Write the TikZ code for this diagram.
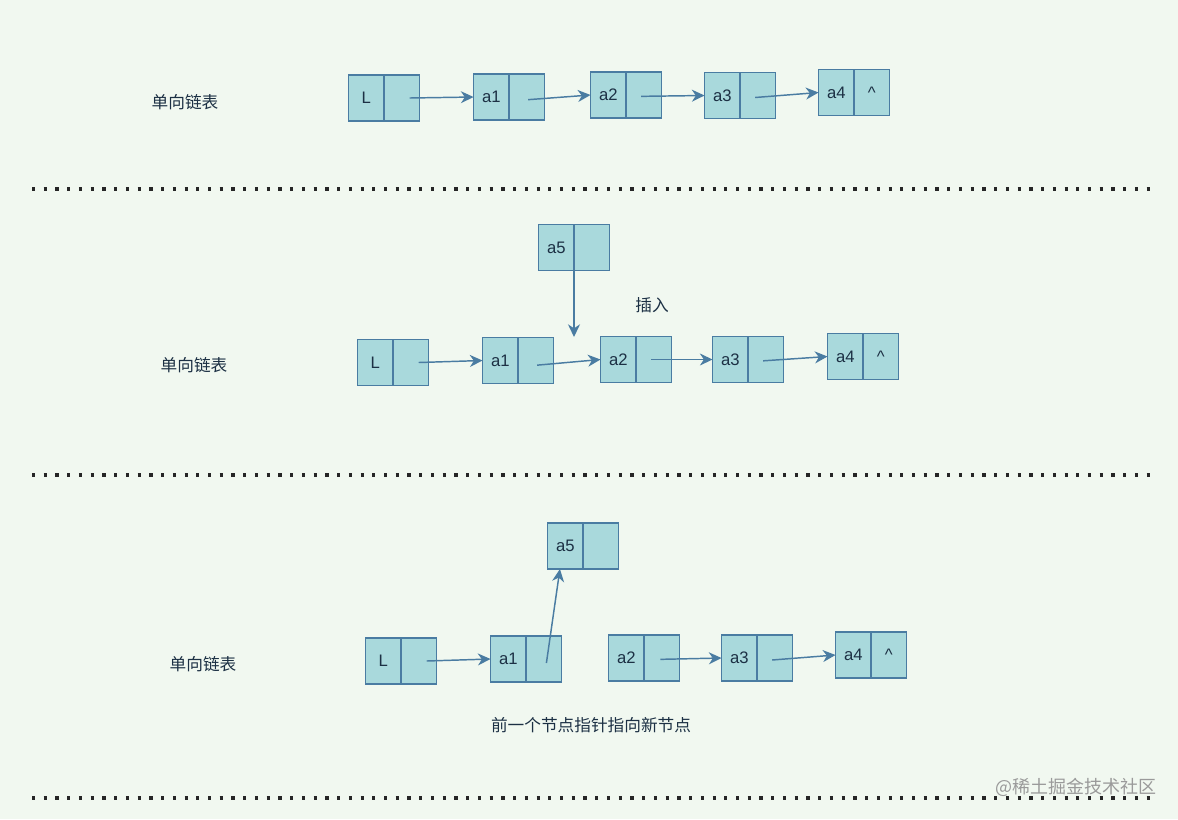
\documentclass[tikz,border=0pt]{standalone}
\usepackage{fontspec}
\setmainfont{Liberation Sans}
\newfontfamily\cjk{Noto Sans CJK SC}
\usetikzlibrary{arrows.meta}
\definecolor{bg}{HTML}{F1F8F0}
\definecolor{cellfill}{HTML}{A9D9DC}
\definecolor{cellline}{HTML}{4A7CA2}
\definecolor{txt}{HTML}{1C3044}
\definecolor{wm}{HTML}{9A9A9A}
\tikzset{
  cell/.style={draw=cellline, fill=cellfill, line width=1.2pt, outer sep=0pt, minimum width=26.6pt, minimum height=34.5pt, inner sep=0pt, text=txt, font=\fontsize{12.5}{14}\selectfont},
  arr/.style={draw=cellline, line width=1.1pt, -{Stealth[length=9.5pt,width=9pt,inset=3pt]}},
  lbl/.style={text=txt, font=\cjk\fontsize{12.5}{15}\selectfont},
  dotline/.style={line width=2.4pt, dash pattern=on 2.4pt off 6.4pt, black!85}
}
\newcommand\lnode[5]{%
  \node[cell,anchor=east] (#1) at (#2,#3) {#4};
  \node[cell,anchor=west] (#1p) at (#2,#3) {#5};}
\begin{document}
\begin{tikzpicture}[x=0.75pt,y=-0.75pt]
\fill[bg] (0,0) rectangle (1178,819);
\useasboundingbox (0,0) rectangle (1178,819);
% Row 1
\node[lbl] (t1) at (185,102) {单向链表};
\lnode{r1L}{384}{98}{L}{}
\lnode{r1a}{509}{97}{a1}{}
\lnode{r1b}{626}{95}{a2}{}
\lnode{r1c}{740}{95.5}{a3}{}
\lnode{r1d}{854}{92.5}{a4}{\^{}}
\draw[arr] ([xshift=6pt]r1Lp.center) -- (r1a.west);
\draw[arr] ([xshift=1pt,yshift=-2pt]r1ap.center) -- (r1b.west);
\draw[arr] ([xshift=-2pt,yshift=-1pt]r1bp.center) -- (r1c.west);
\draw[arr] ([xshift=-2pt,yshift=-1.5pt]r1cp.center) -- (r1d.west);
\draw[dotline] (32,189) -- (1152,189);
% Row 2
\node[lbl] (t2) at (194,365) {单向链表};
\lnode{r2e}{574}{247.5}{a5}{}
\lnode{r2L}{393}{362.5}{L}{}
\lnode{r2a}{518}{360.5}{a1}{}
\lnode{r2b}{636}{359.5}{a2}{}
\lnode{r2c}{748}{359.5}{a3}{}
\lnode{r2d}{863}{356.5}{a4}{\^{}}
\coordinate (ins) at (574,337);
\node[lbl] (t2b) at (652,305) {插入};
\draw[arr] (r2e.south east) -- (ins);
\draw[arr] ([xshift=6pt]r2Lp.center) -- (r2a.west);
\draw[arr] ([xshift=1pt,yshift=-3.5pt]r2ap.center) -- (r2b.west);
\draw[arr] ([xshift=-2pt]r2bp.center) -- (r2c.west);
\draw[arr] ([xshift=-2pt,yshift=-1pt]r2cp.center) -- (r2d.west);
\draw[dotline] (32,475) -- (1152,475);
% Row 3
\node[lbl] (t3) at (203,664) {单向链表};
\lnode{r3e}{583}{546}{a5}{}
\lnode{r3L}{401}{661}{L}{}
\lnode{r3a}{526}{659}{a1}{}
\lnode{r3b}{644}{658}{a2}{}
\lnode{r3c}{757}{658}{a3}{}
\lnode{r3d}{871}{655}{a4}{\^{}}
\draw[arr] ([xshift=6pt]r3Lp.center) -- (r3a.west);
\draw[arr] ([xshift=2pt,yshift=-3pt]r3ap.center) -- ([xshift=-4pt]r3e.south);
\draw[arr] ([xshift=-1pt,yshift=-1pt]r3bp.center) -- (r3c.west);
\draw[arr] ([xshift=-2pt,yshift=-1.5pt]r3cp.center) -- (r3d.west);
\node[lbl] (t3b) at (591,725) {前一个节点指针指向新节点};
\draw[dotline] (32,798) -- (1152,798);
\node[text=wm, font=\cjk\fontsize{13.5}{16}\selectfont] (wmk) at (1076,787) {@稀土掘金技术社区};
\end{tikzpicture}
\end{document}
